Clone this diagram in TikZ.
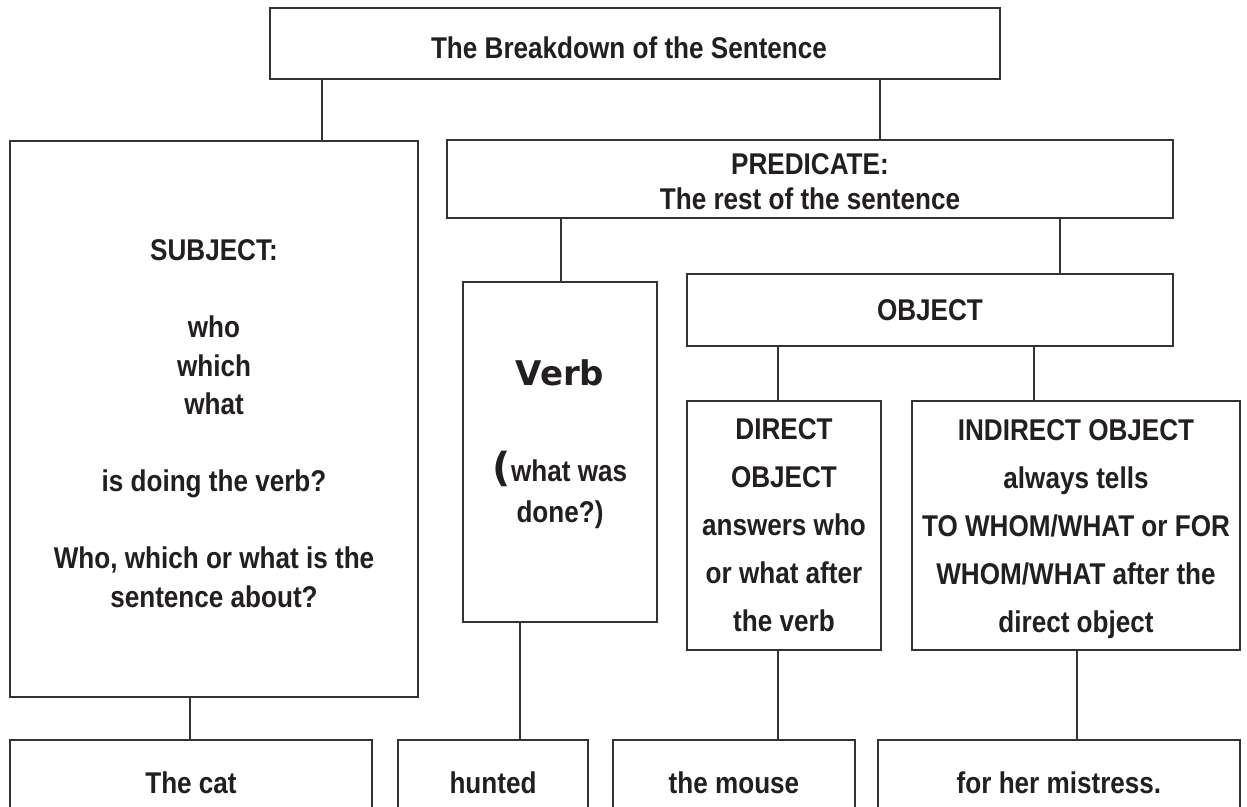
\documentclass[tikz,border=0pt]{standalone}
\usepackage{fontspec}
\setmainfont{Liberation Sans}[FakeStretch=0.87]
\newfontfamily\comicfont{DejaVu Sans}
\definecolor{linec}{HTML}{333333}
\definecolor{textc}{HTML}{231F20}
\begin{document}
\begin{tikzpicture}[x=1pt,y=-1pt,
  box/.style={draw=linec, line width=1.3pt, inner sep=0pt, rectangle},
  txt/.style={font=\bfseries\fontsize{30}{38.5}\selectfont, text=textc, align=center, inner sep=0pt},
  link/.style={draw=linec, line width=1.3pt}]
\useasboundingbox (0,0) rectangle (1247,806);
\clip (0,0) rectangle (1247,806);
\fill[white] (0,0) rectangle (1247,806);
% boxes
\node[box, minimum width=730pt, minimum height=71pt] (title) at (635,43.5) {};
\node[box, minimum width=408pt, minimum height=556pt] (subj) at (214,419) {};
\node[box, minimum width=726pt, minimum height=78pt] (pred) at (810,179) {};
\node[box, minimum width=194pt, minimum height=340pt] (verb) at (560,452) {};
\node[box, minimum width=486pt, minimum height=72pt] (obj) at (930,310) {};
\node[box, minimum width=194pt, minimum height=249pt] (dobj) at (784,525.5) {};
\node[box, minimum width=328pt, minimum height=249pt] (iobj) at (1076,525.5) {};
\node[box, minimum width=362pt, minimum height=90pt] (cat) at (191,785) {};
\node[box, minimum width=190pt, minimum height=90pt] (hunted) at (493,785) {};
\node[box, minimum width=242pt, minimum height=90pt] (mouse) at (734,785) {};
\node[box, minimum width=362pt, minimum height=90pt] (mistress) at (1059,785) {};
% connector x positions
\coordinate (cA) at (322,0);
\coordinate (cB) at (880,0);
\coordinate (cC) at (561,0);
\coordinate (cD) at (1060,0);
\coordinate (cE) at (778,0);
\coordinate (cF) at (1034,0);
\coordinate (cG) at (190,0);
\coordinate (cH) at (520,0);
\coordinate (cJ) at (1077,0);
\draw[link] (title.south -| cA) -- (subj.north -| cA);
\draw[link] (title.south -| cB) -- (pred.north -| cB);
\draw[link] (pred.south -| cC) -- (verb.north -| cC);
\draw[link] (pred.south -| cD) -- (obj.north -| cD);
\draw[link] (obj.south -| cE) -- (dobj.north -| cE);
\draw[link] (obj.south -| cF) -- (iobj.north -| cF);
\draw[link] (subj.south -| cG) -- (cat.north -| cG);
\draw[link] (verb.south -| cH) -- (hunted.north -| cH);
\draw[link] (dobj.south -| cE) -- (mouse.north -| cE);
\draw[link] (iobj.south -| cJ) -- (mistress.north -| cJ);
% texts
\node[txt] (ttitle) at (629,47.5) {The Breakdown of the Sentence};
\node[txt] (tsubj) at (214,423.5) {SUBJECT:\\[38.5pt]who\\which\\what\\[38.5pt]is doing the verb?\\[38.5pt]Who, which or what is the\\sentence about?};
\node[txt, font=\bfseries\fontsize{30}{35}\selectfont] (tpred) at (810,182) {PREDICATE:\\The rest of the sentence};
\node[txt] (tobj) at (930,310) {OBJECT};
\node[txt, font=\bfseries\fontsize{30}{48}\selectfont] (tdobj) at (784,525) {DIRECT\\OBJECT\\answers who\\or what after\\the verb};
\node[txt, font=\bfseries\fontsize{30}{48}\selectfont] (tiobj) at (1076,529) {INDIRECT OBJECT\\always tells\\TO WHOM/WHAT or FOR\\WHOM/WHAT after the\\direct object};
\node[txt, anchor=base, font=\comicfont\bfseries\fontsize{34}{40}\selectfont] (tverb) at (560,385) {Verb};
\node[txt, font=\bfseries\fontsize{30}{41}\selectfont] (tdone) at (560,490) {{\comicfont\fontsize{40}{41}\selectfont(}what was\\done?)};
\node[txt] (tcat) at (191,783) {The cat};
\node[txt] (thunted) at (493,783) {hunted};
\node[txt] (tmouse) at (734,783) {the mouse};
\node[txt] (tmistress) at (1059,783) {for her mistress.};
\end{tikzpicture}
\end{document}
